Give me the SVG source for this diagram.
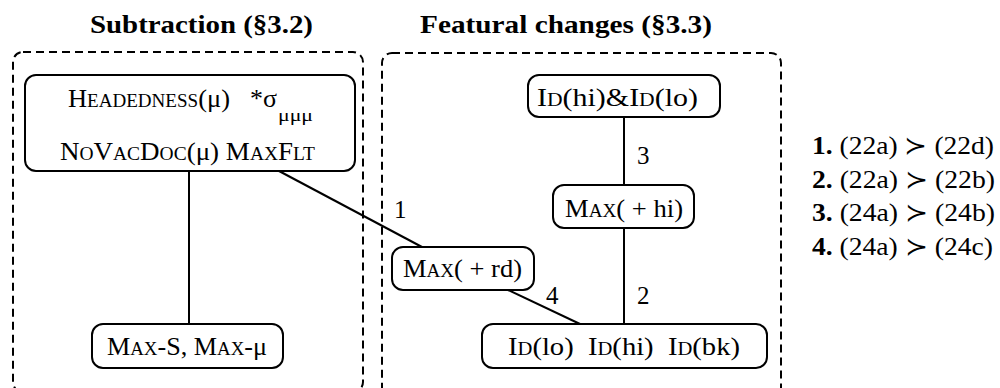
<svg xmlns="http://www.w3.org/2000/svg" width="1000" height="388" viewBox="0 0 1000 388">
<style>
.bg{fill:#fff}
.d{fill:none;stroke:#000;stroke-width:2;stroke-dasharray:8 5}
.n{fill:#fff;stroke:#000;stroke-width:2}
.e{stroke:#000;stroke-width:2;fill:none}
text{font-family:'Liberation Serif','DejaVu Serif',serif;fill:#000}
.t{font-size:25px}
.sc{font-size:18px}
.sub{font-size:17px}
.h{font-size:25px;font-weight:bold}
.lb{font-size:25px}
.b{font-weight:bold}
.pre{white-space:pre}
</style>
<rect class="bg" x="0" y="0" width="1000" height="388"/>
<g id="headings">
<text class="h" x="90" y="33" textLength="223" lengthAdjust="spacingAndGlyphs">Subtraction (§3.2)</text>
<text class="h" x="420" y="33" textLength="292" lengthAdjust="spacingAndGlyphs">Featural changes (§3.3)</text>
</g>
<g id="groups">
<rect class="d" x="13" y="52" width="350" height="340" rx="10"/>
<rect class="d" x="382" y="53" width="399" height="360" rx="10"/>
</g>
<g id="connectors">
<line class="e" x1="189" y1="171" x2="189" y2="324"/>
<line class="e" x1="279" y1="171" x2="422" y2="247"/>
<line class="e" x1="508" y1="290" x2="580" y2="324"/>
<line class="e" x1="624" y1="228" x2="624" y2="324"/>
<line class="e" x1="624" y1="117" x2="624" y2="185"/>
<text class="lb" x="394" y="218">1</text>
<text class="lb" x="637" y="164">3</text>
<text class="lb" x="637" y="304">2</text>
<text class="lb" x="546" y="304">4</text>
</g>
<g id="node-subtraction">
<rect class="n" x="25" y="75" width="330" height="96" rx="11"/>
<text class="t" x="68" y="107" textLength="162" lengthAdjust="spacingAndGlyphs">H<tspan class="sc">EADEDNESS</tspan>(μ)</text>
<text class="t" x="250" y="107" textLength="27" lengthAdjust="spacingAndGlyphs">*σ</text>
<text class="sub" x="278" y="121" textLength="35" lengthAdjust="spacingAndGlyphs">μμμ</text>
<text class="t" x="60" y="160" textLength="255" lengthAdjust="spacingAndGlyphs">N<tspan class="sc">O</tspan>V<tspan class="sc">AC</tspan>D<tspan class="sc">OC</tspan>(μ) M<tspan class="sc">AX</tspan>F<tspan class="sc">LT</tspan></text>
</g>
<g id="node-maxs">
<rect class="n" x="92" y="324" width="191" height="44" rx="11"/>
<text class="t" x="107" y="355" textLength="160" lengthAdjust="spacingAndGlyphs">M<tspan class="sc">AX</tspan>-S, M<tspan class="sc">AX</tspan>-μ</text>
</g>
<g id="node-idhilo">
<rect class="n" x="528" y="75" width="192" height="42" rx="11"/>
<text class="t" x="537" y="106" textLength="161" lengthAdjust="spacingAndGlyphs">I<tspan class="sc">D</tspan>(hi)&amp;I<tspan class="sc">D</tspan>(lo)</text>
</g>
<g id="node-maxhi">
<rect class="n" x="553" y="185" width="141" height="43" rx="11"/>
<text class="t" x="565" y="217" textLength="118" lengthAdjust="spacingAndGlyphs">M<tspan class="sc">AX</tspan>( + hi)</text>
</g>
<g id="node-maxrd">
<rect class="n" x="392" y="247" width="142" height="43" rx="11"/>
<text class="t" x="403" y="277" textLength="119" lengthAdjust="spacingAndGlyphs">M<tspan class="sc">AX</tspan>( + rd)</text>
</g>
<g id="node-ids">
<rect class="n" x="482" y="324" width="285" height="44" rx="11"/>
<text class="t pre" x="508" y="355" textLength="232" lengthAdjust="spacingAndGlyphs">I<tspan class="sc">D</tspan>(lo)  I<tspan class="sc">D</tspan>(hi)  I<tspan class="sc">D</tspan>(bk)</text>
</g>
<g id="legend">
<text class="t" x="812" y="154" textLength="182" lengthAdjust="spacingAndGlyphs"><tspan class="b">1.</tspan> (22a) ≻ (22d)</text>
<text class="t" x="812" y="188" textLength="183" lengthAdjust="spacingAndGlyphs"><tspan class="b">2.</tspan> (22a) ≻ (22b)</text>
<text class="t" x="812" y="221" textLength="183" lengthAdjust="spacingAndGlyphs"><tspan class="b">3.</tspan> (24a) ≻ (24b)</text>
<text class="t" x="812" y="255" textLength="181" lengthAdjust="spacingAndGlyphs"><tspan class="b">4.</tspan> (24a) ≻ (24c)</text>
</g>
</svg>
